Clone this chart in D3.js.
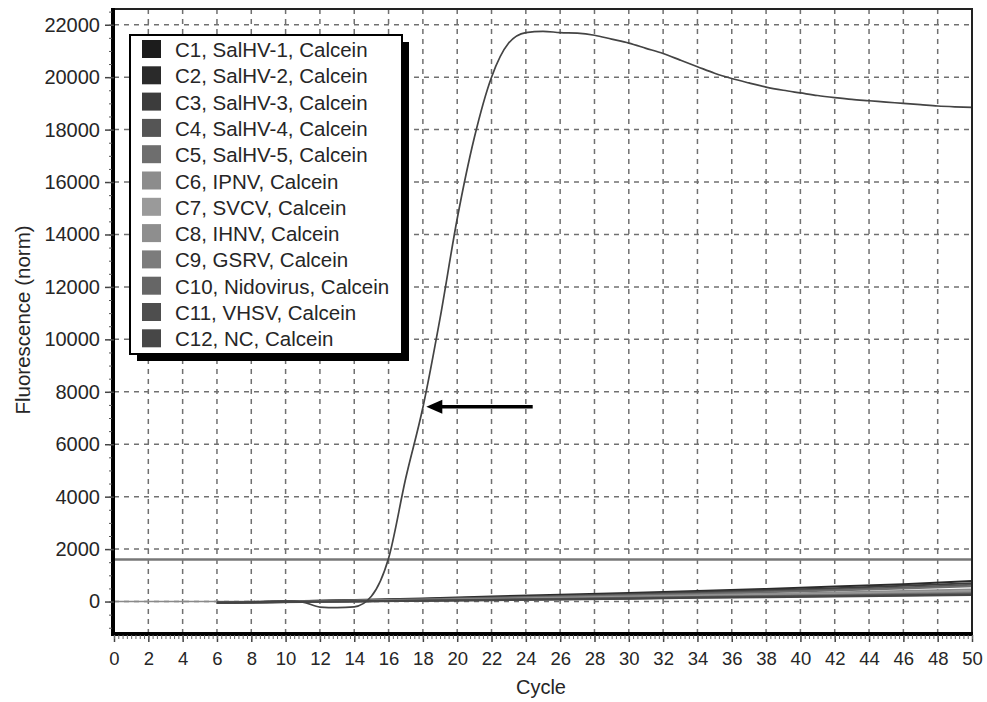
<!DOCTYPE html>
<meta charset="utf-8">
<style>
  body { margin: 0; background: #fff; }
  text { font-family: "Liberation Sans", Arial, sans-serif; fill: #262626; }
  .grid line { stroke: #707070; stroke-width: 1.5; stroke-dasharray: 5,5; }
  .legend text { font-size: 20.5px; }
</style>
<body>
<script src="https://cdn.jsdelivr.net/npm/d3@7"></script>
<script>

  // cycles sampled for the positive curve
  var posCycles = [6, 7, 8, 9, 10, 11, 12, 13, 14, 15, 16, 17, 18, 19, 20, 21, 22, 23, 24, 25, 26, 27, 28,
    29, 30, 31, 32, 33, 34, 35, 36, 37, 38, 39, 40, 41, 42, 43, 44, 45, 46, 47, 48, 49, 50];
  var posValues = [-50, -50, -30, 0, 20, -20, -210, -230, -200, 200, 1650, 4700, 7400, 10800, 14600, 17700,
    20000, 21300, 21700, 21750, 21700, 21680, 21600, 21450, 21300, 21100, 20900, 20650, 20400, 20150,
    19950, 19780, 19620, 19500, 19400, 19300, 19220, 19150, 19100, 19050, 19000, 18950, 18900, 18870, 18850];

  // cycles sampled for the negative samples
  var negCycles = [6, 10, 14, 18, 22, 26, 30, 34, 38, 42, 46, 50];
  var negValues = [
    [-50, 0, 60, 120, 190, 260, 330, 400, 480, 570, 660, 780],
    [-40, 10, 50, 100, 160, 220, 290, 360, 430, 510, 600, 700],
    [-60, -10, 40, 90, 140, 200, 260, 320, 390, 460, 540, 640],
    [-30, 0, 40, 80, 130, 180, 230, 290, 350, 420, 500, 580],
    [-50, -20, 20, 60, 100, 140, 190, 240, 290, 340, 400, 460],
    [-40, -10, 20, 50, 90, 130, 170, 210, 250, 300, 350, 400],
    [-60, -30, 10, 40, 80, 110, 150, 190, 230, 270, 310, 350],
    [-50, -20, 10, 40, 70, 100, 130, 170, 210, 250, 290, 330],
    [-40, -10, 20, 50, 80, 110, 140, 170, 200, 230, 270, 300],
    [-30, -10, 10, 30, 60, 90, 120, 150, 180, 210, 240, 270],
    [-50, -20, 0, 30, 50, 80, 110, 140, 160, 190, 220, 250]
  ];

  var legendLabels = ["C1, SalHV-1, Calcein", "C2, SalHV-2, Calcein", "C3, SalHV-3, Calcein",
    "C4, SalHV-4, Calcein", "C5, SalHV-5, Calcein", "C6, IPNV, Calcein", "C7, SVCV, Calcein",
    "C8, IHNV, Calcein", "C9, GSRV, Calcein", "C10, Nidovirus, Calcein", "C11, VHSV, Calcein",
    "C12, NC, Calcein"];
  var legendColors = ["#1c1c1c", "#2a2a2a", "#3c3c3c", "#555555", "#6e6e6e", "#8c8c8c", "#9a9a9a",
    "#8e8e8e", "#7c7c7c", "#666666", "#4e4e4e", "#474747"];

  var xTicks = d3.range(0, 51, 2);
  var yTicks = d3.range(0, 22001, 2000);
  var threshold = 1600;
  var arrowTip = { cycle: 18.2, value: 7430 };
  var arrowTailCycle = 24.4;

  var margin = { top: 9, right: 15, bottom: 69, left: 114 },
    width = 987 - margin.left - margin.right,
    height = 702 - margin.top - margin.bottom;

  var x = d3.scaleLinear().domain([0, 50]).range([0, width]);
  var y = d3.scaleLinear().domain([-1200, 22600]).range([height, 0]);

  var svg = d3.select("body").append("svg")
    .attr("width", 987)
    .attr("height", 702)
    .append("g")
    .attr("transform", "translate(" + margin.left + "," + margin.top + ")");

  // grid
  var grid = svg.append("g").attr("class", "grid");
  grid.selectAll(".vg").data(xTicks.filter(function (d) { return d > 0 && d < 50; }))
    .enter().append("line")
    .attr("x1", function (d) { return x(d); }).attr("x2", function (d) { return x(d); })
    .attr("y1", 0).attr("y2", height);
  grid.selectAll(".hg").data(yTicks)
    .enter().append("line")
    .attr("x1", 0).attr("x2", width)
    .attr("y1", function (d) { return y(d); }).attr("y2", function (d) { return y(d); });

  // zero line and threshold
  svg.append("line")
    .attr("x1", 0).attr("x2", x(15)).attr("y1", y(0)).attr("y2", y(0))
    .attr("stroke", "#8a8a8a").attr("stroke-width", 1.5);
  svg.append("line")
    .attr("x1", 0).attr("x2", width).attr("y1", y(threshold)).attr("y2", y(threshold))
    .attr("stroke", "#777").attr("stroke-width", 2.5);

  var line = d3.line()
    .x(function (d) { return x(d[0]); })
    .y(function (d) { return y(d[1]); });

  // negative samples
  negValues.forEach(function (vals, i) {
    svg.append("path")
      .datum(negCycles.map(function (c, j) { return [c, vals[j]]; }))
      .attr("fill", "none")
      .attr("stroke", legendColors[i + 1])
      .attr("stroke-width", 2)
      .attr("d", line);
  });

  // positive sample
  svg.append("path")
    .datum(posCycles.map(function (c, j) { return [c, posValues[j]]; }))
    .attr("fill", "none")
    .attr("stroke", "#444")
    .attr("stroke-width", 1.7)
    .attr("d", line.curve(d3.curveMonotoneX));

  // frame
  svg.append("rect").attr("width", width).attr("height", height)
    .attr("fill", "none").attr("stroke", "#222").attr("stroke-width", 2);
  svg.append("line").attr("x1", -1).attr("x2", -1).attr("y1", -1).attr("y2", height + 2)
    .attr("stroke", "#000").attr("stroke-width", 4);
  svg.append("line").attr("x1", -3).attr("x2", width + 1).attr("y1", height + 1).attr("y2", height + 1)
    .attr("stroke", "#000").attr("stroke-width", 4);

  // y axis
  var yAxis = svg.append("g")
    .call(d3.axisLeft(y).tickValues(yTicks).tickSize(6).tickPadding(8).tickFormat(d3.format("d")));
  yAxis.select(".domain").remove();
  yAxis.selectAll("line").attr("stroke", "#444").attr("stroke-width", 1.5).attr("x2", -9);
  yAxis.selectAll("text").style("font-size", "20px").attr("x", -14);
  svg.append("g")
    .call(d3.axisLeft(y).tickValues(d3.range(-1000, 22501, 500)).tickSize(3).tickFormat(""))
    .call(function (g) { g.select(".domain").remove(); })
    .selectAll("line").attr("stroke", "#555").attr("transform", "translate(-2,0)");

  // x axis
  var xAxis = svg.append("g")
    .attr("transform", "translate(0," + (height + 2) + ")")
    .call(d3.axisBottom(x).tickValues(xTicks).tickSize(7).tickPadding(10));
  xAxis.select(".domain").remove();
  xAxis.selectAll("line").attr("stroke", "#444").attr("stroke-width", 1.5);
  xAxis.selectAll("text").style("font-size", "18.5px");
  svg.append("g")
    .attr("transform", "translate(0," + (height + 2) + ")")
    .call(d3.axisBottom(x).tickValues(d3.range(0, 50.01, 0.25)).tickSize(4).tickFormat(""))
    .call(function (g) { g.select(".domain").remove(); })
    .selectAll("line").attr("stroke", "#666");

  // axis labels
  svg.append("text")
    .attr("x", width / 2 - 2)
    .attr("y", height + 61)
    .style("text-anchor", "middle")
    .style("font-size", "20px")
    .text("Cycle");
  svg.append("text")
    .attr("transform", "rotate(-90)")
    .attr("x", -height / 2 + 1)
    .attr("y", -84)
    .style("text-anchor", "middle")
    .style("font-size", "20.5px")
    .text("Fluorescence (norm)");

  // arrow
  var tipX = x(arrowTip.cycle), tipY = y(arrowTip.value);
  svg.append("line")
    .attr("x1", tipX + 12).attr("x2", x(arrowTailCycle))
    .attr("y1", tipY).attr("y2", tipY)
    .attr("stroke", "#000").attr("stroke-width", 3.5);
  svg.append("path")
    .attr("d", "M" + tipX + "," + tipY + "l16,-7l0,14z")
    .attr("fill", "#000");

  // legend
  var lg = d3.select("svg").append("g").attr("class", "legend").attr("transform", "translate(130,35)");
  lg.append("rect").attr("x", 7).attr("y", 7).attr("width", 272).attr("height", 319).attr("fill", "#000");
  lg.append("rect").attr("width", 272).attr("height", 319)
    .attr("fill", "#fff").attr("stroke", "#000").attr("stroke-width", 2);
  var rows = lg.selectAll(".row").data(legendLabels).enter().append("g")
    .attr("transform", function (d, i) { return "translate(0," + (i * 26.3) + ")"; });
  rows.append("rect").attr("x", 12).attr("y", 5).attr("width", 19).attr("height", 18)
    .attr("fill", function (d, i) { return legendColors[i]; });
  rows.append("text").attr("x", 45).attr("y", 22).text(function (d) { return d; });

</script>
</body>
